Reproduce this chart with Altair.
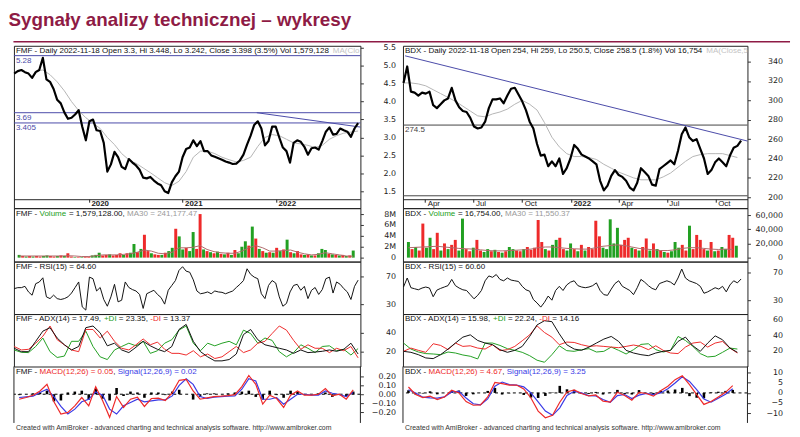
import altair as alt
import pandas as pd

TITLE = "Sygnały analizy technicznej – wykresy"
FOOTER = ("Created with AmiBroker - advanced charting and technical analysis "
          "software. http://www.amibroker.com")

# ================= FMF (left) : one sample every 14 days, last 2022-11-18 =================
FMF_LAST, FMF_N, FMF_STEP = "2022-11-18", 97, "14D"
fmf_close = [4.78, 4.85, 4.88, 4.82, 4.78, 4.66, 4.82, 4.88, 5.22, 4.62,
             4.55, 4.35, 4.05, 3.95, 3.70, 3.52, 3.55, 3.64, 3.76, 3.30,
             2.92, 3.45, 3.50, 3.20, 3.18, 2.85, 2.05, 2.25, 2.60, 2.45,
             2.18, 2.12, 2.40, 2.30, 2.22, 2.10, 1.88, 1.86, 1.90, 1.80,
             1.72, 1.67, 1.50, 1.45, 1.75, 1.92, 2.05, 2.45, 2.68, 2.72,
             2.92, 2.76, 2.90, 2.62, 2.62, 2.50, 2.46, 2.42, 2.38, 2.33,
             2.30, 2.26, 2.27, 2.36, 2.52, 2.80, 3.05, 3.35, 3.45, 3.25,
             2.78, 2.90, 3.30, 3.30, 3.00, 2.72, 2.62, 2.30, 2.85, 2.92,
             2.88, 2.74, 2.52, 2.70, 2.72, 2.66, 2.90, 3.16, 3.28, 3.08,
             3.10, 3.25, 3.20, 3.16, 3.02, 3.25, 3.40]
fmf_vol = [0.5, 0.3, 0.2, 0.3, 0.2, 0.3, 0.2, 0.3, 0.4, 0.3,
           0.2, 0.3, 0.4, 0.3, 0.8, 0.2, 0.1, 0.1, 0.1, 0.2,
           0.2, 0.4, 0.5, 0.9, 0.4, 0.5, 0.6, 0.4, 0.5, 0.8,
           0.5, 0.8, 0.9, 2.5, 1.0, 1.6, 4.2, 1.2, 0.8, 0.6,
           0.5, 0.5, 0.9, 1.2, 1.8, 5.3, 3.9, 1.5, 1.8, 1.2,
           4.7, 1.6, 8.0, 1.5, 1.2, 1.0, 0.8, 1.1, 0.7, 0.6,
           0.9, 0.5, 1.4, 0.8, 2.0, 3.0, 2.2, 5.7, 3.5, 1.6,
           1.2, 0.9, 1.0, 0.9, 1.8, 1.2, 1.5, 3.3, 1.0, 0.8,
           1.2, 0.6, 0.5, 0.6, 0.4, 0.4, 0.8, 1.6, 1.4, 0.7,
           0.6, 0.5, 0.4, 0.5, 0.3, 0.4, 1.3]
fmf_dir = ("GRGRGRRGGR" "RGRGRRGRGR" "RGGGRRGRRR" "GRGGRGRRGR" "RGRGGRGGRG"
           "GRRGRGRGRG" "RGRGGGRGRG" "RGRGRGRGRG" "RRGRGRGGGR" "GRGRGRG")
fmf_rsi = [52.4, 53.8, 53.8, 55.7, 47.6, 42.9, 59.5, 61.9, 68.0, 40.5,
           38.0, 43.0, 38.0, 36.7, 38.0, 40.5, 46.0, 54.0, 62.0, 26.0,
           21.4, 69.0, 66.7, 49.0, 54.0, 36.7, 27.0, 40.5, 58.6, 33.3,
           35.7, 62.0, 54.0, 51.0, 49.0, 44.0, 23.8, 45.0, 47.6, 50.0,
           44.0, 39.5, 30.0, 50.0, 57.0, 64.0, 78.6, 84.0, 77.6, 76.0,
           65.0, 49.0, 45.0, 46.0, 47.6, 45.0, 49.0, 47.6, 47.0, 45.0,
           47.0, 49.0, 54.0, 58.6, 64.0, 81.0, 73.0, 69.0, 66.7, 45.0,
           38.0, 57.0, 64.0, 60.5, 40.5, 27.0, 31.0, 47.6, 57.0, 58.6,
           50.0, 55.7, 38.0, 50.0, 54.0, 44.0, 51.0, 66.7, 69.0, 46.0,
           62.0, 58.6, 52.4, 47.6, 36.7, 55.7, 64.6]
# every second sample (28 days)
fmf_ma = [None, None, None, 4.85, 4.88, 4.75, 4.55, 4.30, 4.00, 3.75,
          3.55, 3.40, 3.25, 3.00, 2.80, 2.55, 2.38, 2.28, 2.15, 2.02,
          1.88, 1.74, 1.66, 1.78, 2.05, 2.45, 2.62, 2.62, 2.55, 2.45,
          2.38, 2.32, 2.36, 2.45, 2.75, 3.00, 3.08, 3.05, 2.95, 2.85,
          2.82, 2.78, 2.72, 2.78, 2.95, 3.05, 3.12, 3.15, 3.18]
fmf_vma = [0.3, 0.3, 0.3, 0.3, 0.3, 0.3, 0.3, 0.35, 0.3, 0.2,
           0.2, 0.35, 0.5, 0.5, 0.5, 0.6, 0.7, 1.0, 1.4, 1.2,
           0.8, 0.7, 1.0, 1.8, 1.8, 1.9, 2.2, 1.5, 1.1, 0.9,
           0.8, 0.8, 1.2, 1.8, 2.2, 1.8, 1.2, 1.2, 1.3, 1.4,
           1.0, 0.7, 0.5, 0.6, 0.9, 0.7, 0.5, 0.3, 0.25]
fmf_adx = [23.6, 20, 20, 31, 41.8, 45.5, 34.5, 27.3, 21.8, 25.5,
           45.5, 47.3, 40, 26.2, 29, 21.8, 19, 24.7, 31, 26.2,
           22.5, 20, 25.5, 43.6, 49, 31, 20, 14.5, 10.2, 10.2,
           11.6, 17.5, 38.2, 43.6, 32.7, 27.3, 25.5, 23.6, 21.8, 18.2,
           21.8, 19, 19.6, 20.4, 21.8, 20.4, 22.5, 29, 17.5]
fmf_pdi = [21.8, 19.3, 19, 25.5, 34.5, 20, 13.8, 15.3, 31, 31,
           41.8, 25.5, 14.5, 11.6, 21.8, 25.5, 29, 26.2, 31, 18.2,
           21, 29, 32.7, 42.9, 47.3, 29, 21, 29, 26.2, 29,
           31, 27.3, 42.9, 39.3, 29, 34.5, 32, 20, 14.5, 19,
           27.3, 23.6, 19, 25.5, 26.2, 21, 22.5, 16.4, 23.3]
fmf_mdi = [25.5, 21.8, 22.5, 29, 36.4, 47.3, 32.7, 27.3, 21.8, 20,
           43.6, 43.6, 34.5, 41.8, 31, 23.6, 21.8, 27.3, 33.5, 27.3,
           30.2, 22.5, 18.2, 18.2, 16.4, 21, 14.5, 17.5, 12.7, 14.5,
           20, 25.5, 19, 21.8, 29, 31, 39.3, 47.3, 42.9, 32,
           22.5, 27.3, 23.6, 23.6, 19, 23.6, 21, 25.5, 13.4]
fmf_macd = [-0.056, -0.037, -0.011, 0.037, 0.111, -0.085, -0.222, -0.204, -0.130, -0.037,
            -0.130, 0.085, -0.074, -0.259, -0.026, -0.148, -0.056, -0.033, -0.137, -0.048,
            -0.044, -0.070, 0.019, 0.156, 0.167, 0.037, -0.056, -0.041, -0.026, -0.022,
            -0.015, -0.004, 0.085, 0.211, 0.111, -0.111, -0.011, -0.048, -0.148, -0.011,
            0.037, -0.011, -0.011, 0.0, 0.063, -0.019, 0.0, -0.056, 0.048]
fmf_sig = [-0.037, -0.030, -0.022, 0.019, 0.056, -0.026, -0.137, -0.222, -0.167, -0.085,
           -0.056, 0.026, -0.011, -0.167, -0.222, -0.130, -0.093, -0.056, -0.085, -0.074,
           -0.063, -0.063, -0.019, 0.100, 0.174, 0.111, -0.026, -0.048, -0.033, -0.026,
           -0.022, -0.019, 0.056, 0.174, 0.148, -0.056, -0.056, -0.037, -0.111, -0.056,
           0.0, 0.0, -0.011, -0.011, 0.037, 0.011, -0.004, -0.026, 0.019]
fmf_hist = [-0.01, 0.0, 0.01, 0.02, 0.04, -0.08, -0.07, 0.02, 0.03, 0.04,
            -0.06, 0.06, -0.05, -0.07, 0.07, -0.02, 0.03, 0.02, -0.04, 0.02,
            0.02, -0.01, 0.03, 0.05, 0.0, -0.06, -0.03, 0.01, 0.01, 0.0,
            0.01, 0.02, 0.03, 0.04, -0.03, -0.06, 0.04, -0.01, -0.04, 0.04,
            0.03, -0.01, 0.0, 0.01, 0.02, -0.03, 0.0, -0.02, 0.03]
fmf_levels = [5.28, 3.69, 3.405]
fmf_level_labels = ["5.28", "3.69", "3.405"]
fmf_trend_dates = ["2021-10-18", "2022-11-27"]
fmf_trend_vals = [3.69, 3.29]
fmf_x_ticks = ["2020-01-01", "2021-01-01", "2022-01-01"]
fmf_price_ticks = [1.5, 2.0, 2.5, 3.0, 3.5, 4.0, 4.5, 5.0, 5.5]
fmf_vol_ticks = [0, 2, 4, 6, 8]
fmf_rsi_ticks = [30, 70]
fmf_adx_ticks = [20, 40]
fmf_macd_ticks = [-0.2, -0.1, 0.0, 0.1, 0.2]

# ================= BDX (right) : one sample every 7 days, last 2022-11-18 =================
BDX_LAST, BDX_N, BDX_STEP = "2022-11-18", 92, "7D"
bdx_close = [318, 335, 309, 308, 305, 308, 307, 309, 295, 292,
             296, 300, 302, 313, 300, 293, 289, 288, 282, 273,
             271, 272, 278, 292, 301, 301, 302, 297, 305, 312,
             313, 306, 299, 290, 278, 271, 255, 243, 244, 232,
             237, 232, 240, 224, 230, 240, 254, 250, 244, 242,
             240, 237, 234, 217, 207, 212, 222, 228, 223, 221,
             217, 210, 207, 215, 230, 226, 222, 213, 212, 229,
             232, 235, 238, 234, 248, 265, 272, 262, 258, 260,
             250, 240, 224, 228, 236, 240, 236, 232, 243, 251,
             253, 258.5]
bdx_vol = [22000, 12000, 15000, 10000, 48000, 14000, 28000, 12000, 35000, 10000,
           20000, 12000, 18000, 25000, 10000, 55000, 12000, 9000, 14000, 25000,
           10000, 8000, 12000, 9000, 11000, 8000, 7000, 9000, 15000, 12000,
           10000, 9000, 12000, 15000, 11000, 14000, 53000, 22000, 12000, 10000,
           18000, 25000, 28000, 12000, 10000, 20000, 12000, 9000, 18000, 10000,
           15000, 12000, 52000, 30000, 14000, 12000, 54000, 20000, 42000, 18000,
           25000, 28000, 14000, 12000, 10000, 15000, 27000, 10000, 20000, 12000,
           10000, 8000, 7000, 9000, 22000, 14000, 18000, 10000, 45000, 12000,
           32000, 25000, 12000, 10000, 22000, 9000, 10000, 15000, 12000, 32000,
           28000, 16754]
bdx_dir = ("GRGRRGGRRG" "RGRRGGRRGR" "RGGRGRGRGG" "RRGRRRRRGR" "GGRRGGRGRG"
           "RRRRGGGGGR" "RRGRGRRGRG" "RGRGGGRRGR" "RRRGRGRGGR" "RG")
bdx_rsi = [49, 62, 48, 46.5, 45, 47.5, 49, 47.5, 35, 44.5,
           47, 49, 51, 60, 51, 47.5, 45, 44, 38, 32,
           37, 44, 58, 65, 63, 67, 60, 58, 62, 59,
           58, 57, 50, 45, 43, 31, 26, 20, 27, 36,
           30, 44, 50, 44, 52, 56, 58, 51, 49, 48,
           49, 51, 55, 44, 38, 37, 46, 54, 58, 50,
           47, 44, 38, 48, 60, 56, 51, 47, 45, 54,
           56, 58, 56, 52, 62, 75, 62, 58, 56, 54,
           50, 40, 42, 45, 48, 46, 50, 42, 52, 58,
           55, 60.6]
# every second sample (14 days)
bdx_ma = [318, 318, 317, 315, 311, 307, 303, 299, 294, 289,
          284, 283, 286, 288, 291, 296, 300, 296, 290, 277,
          262, 252, 245, 242, 242, 241, 239, 234, 230, 226,
          223, 220, 218, 218, 218, 221, 225, 231, 237, 242,
          244, 245, 245, 245, 243, 241]
bdx_vma = [14000, 14500, 15000, 15500, 16000, 15000, 14000, 13000, 12500, 12000,
           11000, 10000, 9500, 9500, 10000, 10500, 11000, 12000, 14000, 15000,
           15000, 14000, 13000, 12500, 12000, 12000, 14000, 16000, 17000, 18000,
           17000, 15000, 13000, 12000, 11000, 10000, 10000, 11000, 13000, 14000,
           14000, 13000, 12000, 11500, 12000, 11550]
bdx_adx = [18.7, 17.4, 14.3, 10, 9.1, 14.3, 21.7, 29.6, 37.4, 40.4,
           33, 29.6, 27.4, 20.9, 17.4, 20, 25.2, 38.3, 53.5, 59,
           57.8, 41.7, 27.4, 21.7, 20, 24.3, 29.6, 34.8, 38.3, 31.7,
           20, 16.5, 14.3, 13, 16.5, 18.7, 20, 31.7, 37.4, 26,
           18.7, 29.6, 39.1, 33.9, 23, 17.4]
bdx_pdi = [29.6, 21.7, 17.8, 15.7, 15.2, 14.3, 17.8, 16.5, 13.9, 12.2,
           8.7, 29.6, 29.6, 26.5, 22.2, 20, 17.4, 13, 7, 4.3,
           14.3, 26, 19.6, 18.7, 20.9, 22.2, 17.8, 18.7, 24.3, 20,
           15.2, 20.9, 27.8, 28.7, 20.9, 17.8, 20, 38.3, 33, 25.2,
           15.7, 11.3, 12.2, 17.4, 23, 21.7]
bdx_mdi = [18.7, 23, 20, 17.4, 28.7, 26.5, 20.9, 29.6, 25.2, 26,
           23, 21.7, 27.4, 19.6, 20.9, 25.2, 32.6, 40.4, 52.2, 43.5,
           37.4, 27.4, 30.9, 30.4, 27.4, 25.2, 26, 25.2, 24.3, 23.5,
           25.2, 27, 25.2, 20.9, 26, 20, 16.5, 15.7, 24.3, 29.6,
           30.9, 24.3, 29.6, 31.7, 23, 16.5]
bdx_macd = [2.95, -0.8, -2.3, -1.6, -3.3, -2.0, 1.3, 0, -4.3, -6.1,
            -5.9, -2.0, 5.2, 4.6, 3.9, 3.9, 2.0, -2.5, -9.0, -12.3,
            -11.1, -4.6, 0.5, 1.5, -0.3, -1.5, -1.0, -4.1, -4.6, 0.3,
            -1.3, -3.6, 0.3, -0.3, -1.6, 1.1, 3.3, 6.6, 8.5, 4.1,
            -0.8, -5.7, -4.3, -2.0, 0.3, 3.6]
bdx_sig = [1.6, 0, -2.1, -2.5, -2.6, -2.0, 0.5, 0.8, -2.5, -5.4,
           -5.9, -3.0, 3.3, 5.4, 4.1, 3.9, 3.0, 0, -4.4, -9.0,
           -11.1, -7.4, -1.3, 0.8, 0, -1.3, -1.5, -3.3, -4.6, -1.3,
           -0.8, -2.8, -1.1, -0.2, -0.8, 0, 2.1, 4.9, 8.0, 5.7,
           1.6, -3.0, -4.6, -2.6, -0.7, 2.1]
bdx_hist = [1.3, -0.8, -0.3, 0.8, -0.7, 0.0, 0.9, 1.2, -1.5, -0.7,
            0.0, 1.0, 2.5, -0.8, -0.2, 0.0, -1.0, -2.3, -2.5, -1.5,
            0.2, 3.5, 1.8, 1.5, -0.3, -0.5, 0.5, -0.8, 0.2, 1.5,
            -0.5, -0.8, 1.4, -0.1, -0.8, 1.1, 1.2, 1.7, 2.5, -1.6,
            -2.4, -2.7, 0.3, 0.6, 1.0, 1.5]
bdx_levels = [274.5, 201.5]
bdx_level_labels = ["274.5"]
bdx_trend_dates = ["2021-02-22", "2022-11-30"]
bdx_trend_vals = [346, 258]
bdx_x_ticks = ["2021-04-01", "2021-07-01", "2021-10-01", "2022-01-01",
               "2022-04-01", "2022-07-01", "2022-10-01"]
bdx_price_ticks = [200, 220, 240, 260, 280, 300, 320, 340]
bdx_vol_ticks = [0, 20000, 40000, 60000]
bdx_rsi_ticks = [30, 70]
bdx_adx_ticks = [20, 40, 60]
bdx_macd_ticks = [-10, -5, 0, 5, 10]

# ================= styling =================
TITLE_RED = "#8e1b45"
BLACK = "#111111"
GREEN = "#22a022"
RED = "#ee2a2a"
BLUE = "#3a3ae6"
LEVEL_BLUE = "#4a4aa8"
MA_GRAY = "#b5b5b5"
VMA_COL = "#b06a6a"
FRAME = "#222222"
HFONT = "Liberation Sans"
HSIZE = 8.1

W_L, W_R = 350, 348
H_PRICE, H_VOL, H_RSI, H_ADX, H_MACD = 164, 54, 53, 53, 56

_w = {" ": 278, "!": 278, "%": 889, "(": 333, ")": 333, "+": 584, ",": 278,
      "-": 333, ".": 278, "/": 278, ":": 278, "=": 584}
for c in "0123456789":
    _w[c] = 556
for c, w in zip("ABCDEFGHIJKLMNOPQRSTUVWXYZ",
                [667, 667, 722, 722, 667, 611, 778, 722, 278, 500, 667, 556, 833,
                 722, 778, 667, 778, 722, 667, 611, 722, 667, 944, 667, 667, 611]):
    _w[c] = w
for c, w in zip("abcdefghijklmnopqrstuvwxyz",
                [556, 556, 500, 556, 556, 278, 556, 556, 222, 222, 500, 222, 833,
                 556, 556, 556, 556, 333, 500, 278, 556, 500, 722, 500, 500, 500]):
    _w[c] = w


def tw(s, size):
    return sum(_w.get(c, 556) for c in s) * size / 1000.0


def ts(s):
    return int(pd.Timestamp(s).value // 10**6)


def dates(last, n, step):
    return [d.strftime("%Y-%m-%d") for d in pd.date_range(end=last, periods=n, freq=step)]


ONE = pd.DataFrame({"k": [0]})


def text_run(segs, x0, y, size=HSIZE, clip=True):
    out = []
    x = x0
    for txt, col in segs:
        body = txt.strip()
        lead = len(txt) - len(txt.lstrip())
        if body:
            out.append(alt.Chart(ONE).mark_text(
                text=body, align="left", baseline="middle", font=HFONT,
                fontSize=size, color=col, clip=clip
            ).encode(x=alt.value(x + tw(txt[:lead], size)), y=alt.value(y)))
        x += tw(txt, size)
    return out


def yaxis(values, fmt=None, expr=None):
    kw = dict(orient="right", values=values, title=None, grid=False, domain=False,
              ticks=True, tickSize=3, tickColor="#333", labelFont="DejaVu Sans",
              labelFontSize=8, labelColor="#222", labelAlign="right",
              labelBaseline="middle", labelPadding=32.5, labelFlush=False,
              labelOverlap=False)
    if fmt:
        kw["format"] = fmt
    if expr:
        kw["labelExpr"] = expr
    return alt.Axis(**kw)


def xaxis(values, expr, weight):
    return alt.Axis(values=[ts(v) for v in values], labelExpr=expr, orient="bottom",
                    offset=-9, title=None, grid=False, domain=True, domainColor=FRAME,
                    ticks=True, tickSize=3, tickColor=FRAME, labelFont=HFONT,
                    labelFontSize=8, labelColor="#222", labelAlign="left",
                    labelBaseline="middle", labelPadding=1.5, labelOffset=2,
                    labelFlush=False, labelOverlap=False, labelFontWeight=weight)


def X(dom, axis=None):
    return alt.X("date:T", scale=alt.Scale(type="utc", domain=[ts(d) for d in dom]), axis=axis)


def Y(field, dom, axis):
    return alt.Y(f"{field}:Q", scale=alt.Scale(domain=dom, zero=False, nice=False), axis=axis)


def column(full, half, lev_df, lab_df, trend_df, xdom, xax, doms, axes, heads,
           width, lev_color, extra_price=()):
    pd_, vd, rd, ad, md = doms
    pa, va, ra, aa, ma = axes
    xp = X(xdom, xax)
    x = X(xdom)
    price = alt.layer(
        alt.Chart(lev_df).mark_rule(color=lev_color, strokeWidth=1).encode(y=Y("v", pd_, pa)),
        alt.Chart(lab_df).mark_text(align="left", baseline="top", dy=1.5, font=HFONT,
                                    fontSize=HSIZE, color=lev_color).encode(
            x=alt.value(2), y=Y("v", pd_, pa), text="lab:N"),
        alt.Chart(trend_df).mark_line(color=LEVEL_BLUE, strokeWidth=1).encode(x=xp, y=Y("v", pd_, pa)),
        alt.Chart(half).mark_line(color=MA_GRAY, strokeWidth=1).encode(x=xp, y=Y("ma", pd_, pa)),
        alt.Chart(full).mark_line(color="#000", strokeWidth=2.2, strokeJoin="round").encode(
            x=xp, y=Y("close", pd_, pa)),
        *text_run(heads[0], 2, 5.5),
        *extra_price,
    ).properties(width=width, height=H_PRICE)

    vol = alt.layer(
        alt.Chart(full).mark_bar(width=3).encode(
            x=x, y=Y("vol", vd, va), y2=alt.datum(0),
            color=alt.Color("dir:N", scale=alt.Scale(domain=["G", "R"], range=[GREEN, RED]),
                            legend=None)),
        alt.Chart(half).mark_line(color=VMA_COL, strokeWidth=1).encode(x=x, y=Y("vma", vd, va)),
        *text_run(heads[1], 2, 5.5),
    ).properties(width=width, height=H_VOL)

    rsi = alt.layer(
        alt.Chart(full).mark_line(color=BLACK, strokeWidth=1).encode(x=x, y=Y("rsi", rd, ra)),
        *text_run(heads[2], 2, 5.5),
    ).properties(width=width, height=H_RSI)

    adx = alt.layer(
        alt.Chart(half).mark_line(color=GREEN, strokeWidth=1).encode(x=x, y=Y("pdi", ad, aa)),
        alt.Chart(half).mark_line(color=RED, strokeWidth=1).encode(x=x, y=Y("mdi", ad, aa)),
        alt.Chart(half).mark_line(color=BLACK, strokeWidth=1).encode(x=x, y=Y("adx", ad, aa)),
        *text_run(heads[3], 2, 5.5),
    ).properties(width=width, height=H_ADX)

    zero = pd.DataFrame({"v": [0]})
    macd = alt.layer(
        alt.Chart(zero).mark_rule(color="#000", strokeDash=[3, 3], strokeWidth=1).encode(
            y=Y("v", md, ma)),
        alt.Chart(half).mark_bar(width=2.6, color="#000").encode(
            x=x, y=Y("hist", md, ma), y2=alt.datum(0)),
        alt.Chart(half).mark_line(color=BLUE, strokeWidth=1.2).encode(x=x, y=Y("sig", md, ma)),
        alt.Chart(half).mark_line(color=RED, strokeWidth=1.2).encode(x=x, y=Y("macd", md, ma)),
        # open-bottom frame: only the two side borders (top is the ADX panel's edge)
        alt.Chart(ONE).mark_rule(color=FRAME, strokeWidth=1).encode(
            x=alt.value(0), y=alt.value(0), y2=alt.value(H_MACD + 1)),
        alt.Chart(ONE).mark_rule(color=FRAME, strokeWidth=1).encode(
            x=alt.value(width), y=alt.value(0), y2=alt.value(H_MACD + 1)),
        *text_run(heads[4], 2, 6),
        *text_run([(FOOTER, "#333")], 2, 62.3, size=7, clip=False),
    ).properties(width=width, height=H_MACD, view=alt.ViewBackground(stroke="transparent"))

    return [price, vol, rsi, adx, macd]


# ---------------- tables ----------------
fd = dates(FMF_LAST, FMF_N, FMF_STEP)
fmf_full = pd.DataFrame({"date": fd, "close": fmf_close, "vol": fmf_vol,
                         "dir": list(fmf_dir), "rsi": fmf_rsi})
fmf_half = pd.DataFrame({"date": fd[::2], "ma": fmf_ma, "vma": fmf_vma, "adx": fmf_adx,
                         "pdi": fmf_pdi, "mdi": fmf_mdi, "macd": fmf_macd,
                         "sig": fmf_sig, "hist": fmf_hist})
fmf_lev = pd.DataFrame({"v": fmf_levels})
fmf_lab = pd.DataFrame({"v": fmf_levels, "lab": fmf_level_labels})
fmf_trend = pd.DataFrame({"date": fmf_trend_dates, "v": fmf_trend_vals})

bd = dates(BDX_LAST, BDX_N, BDX_STEP)
bdx_full = pd.DataFrame({"date": bd, "close": bdx_close, "vol": bdx_vol,
                         "dir": list(bdx_dir), "rsi": bdx_rsi})
bdx_half = pd.DataFrame({"date": bd[::2], "ma": bdx_ma, "vma": bdx_vma, "adx": bdx_adx,
                         "pdi": bdx_pdi, "mdi": bdx_mdi, "macd": bdx_macd,
                         "sig": bdx_sig, "hist": bdx_hist})
bdx_lev = pd.DataFrame({"v": bdx_levels})
bdx_lab = pd.DataFrame({"v": bdx_levels[:1], "lab": bdx_level_labels})
bdx_trend = pd.DataFrame({"date": bdx_trend_dates, "v": bdx_trend_vals})

fmf_heads = [
    [("FMF - Daily 2022-11-18 Open 3.3, Hi 3.448, Lo 3.242, Close 3.398 (3.5%) Vol 1,579,128 ", BLACK),
     ("MA(Clo", "#c4c4c4")],
    [("FMF - ", BLACK), ("Volume", GREEN), (" = 1,579,128.00, ", BLACK), ("MA30 = 241,177.47", "#9a9a9a")],
    [("FMF - RSI(15) = 64.60", BLACK)],
    [("FMF - ADX(14) = 17.49, ", BLACK), ("+DI", GREEN), (" = 23.35, ", BLACK), ("-DI", RED), (" = 13.37", BLACK)],
    [("FMF - ", BLACK), ("MACD(12,26) = 0.05", RED), (", ", BLACK), ("Signal(12,26,9) = 0.02", BLUE)],
]
bdx_heads = [
    [("BDX - Daily 2022-11-18 Open 254, Hi 259, Lo 250.5, Close 258.5 (1.8%) Vol 16,754 ", BLACK),
     ("MA(Close,5", "#c4c4c4")],
    [("BDX - ", BLACK), ("Volume", GREEN), (" = 16,754.00, ", BLACK), ("MA30 = 11,550.37", "#9a9a9a")],
    [("BDX - RSI(15) = 60.60", BLACK)],
    [("BDX - ADX(14) = 15.98, ", BLACK), ("+DI", GREEN), (" = 22.24, ", BLACK), ("-DI", RED), (" = 14.16", BLACK)],
    [("BDX - ", BLACK), ("MACD(12,26) = 4.67", RED), (", ", BLACK), ("Signal(12,26,9) = 3.25", BLUE)],
]

title_layers = [
    alt.Chart(ONE).mark_text(text=TITLE, align="left", baseline="alphabetic", font=HFONT,
                             fontSize=19, fontWeight="bold", color=TITLE_RED).encode(
        x=alt.value(-5.5), y=alt.value(-20)),
    alt.Chart(ONE).mark_rule(color=TITLE_RED, strokeWidth=1.5).encode(
        x=alt.value(-0.5), x2=alt.value(784), y=alt.value(-4)),
]

left = column(
    fmf_full, fmf_half, fmf_lev, fmf_lab, fmf_trend,
    ["2019-03-14", "2022-11-27"],
    xaxis(fmf_x_ticks, "utcFormat(datum.value, '%Y')", "bold"),
    [[1.031, 5.555], [-0.727, 9.09], [15.7, 91.4], [4.2, 60.0], [-0.311, 0.311]],
    [yaxis(fmf_price_ticks, ".1f"),
     yaxis(fmf_vol_ticks, expr="datum.value == 0 ? '0' : datum.value + 'M'"),
     yaxis(fmf_rsi_ticks), yaxis(fmf_adx_ticks), yaxis(fmf_macd_ticks, ".2f")],
    fmf_heads, W_L, LEVEL_BLUE, extra_price=title_layers)

right = column(
    bdx_full, bdx_half, bdx_lev, bdx_lab, bdx_trend,
    ["2021-02-18", "2022-11-30"],
    xaxis(bdx_x_ticks,
          "utcmonth(datum.value) == 0 ? utcFormat(datum.value, '%Y') : utcFormat(datum.value, '%b')",
          {"condition": {"test": "utcmonth(datum.value) == 0", "value": "bold"}, "value": "normal"}),
    [[188.76, 356.35], [-5581, 69767], [10.0, 85.7], [-1.3, 67.8], [-14.4, 13.1]],
    [yaxis(bdx_price_ticks), yaxis(bdx_vol_ticks, ",.0f"), yaxis(bdx_rsi_ticks),
     yaxis(bdx_adx_ticks), yaxis(bdx_macd_ticks)],
    bdx_heads, W_R, "#444444")

cells = []
for a, b in zip(left, right):
    cells += [a, b]

chart = alt.concat(*cells, columns=2, spacing={"row": 0, "column": 43},
                   bounds="flush", align="each").properties(
    padding=0
).configure_view(stroke=FRAME, strokeWidth=1)

chart.save("out.html", embed_options={"renderer": "svg", "actions": False})
